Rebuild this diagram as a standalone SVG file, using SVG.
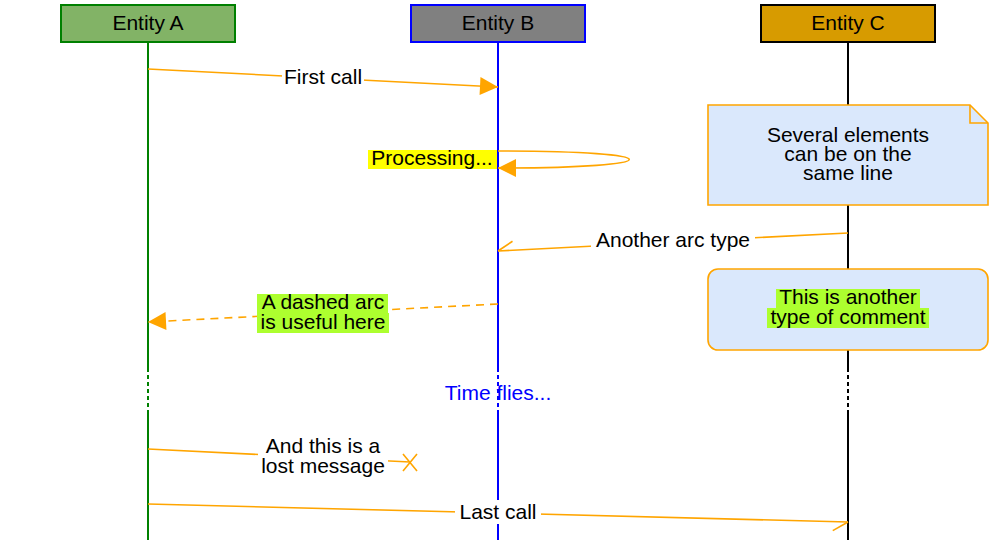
<svg xmlns="http://www.w3.org/2000/svg" width="995" height="554" viewBox="0 0 995 554">
<style>
text{font-family:"Liberation Sans",Arial,sans-serif;font-size:21px;fill:#000;}
.c{text-anchor:middle;}
.arc{fill:none;stroke:#FFA500;stroke-width:1.6;}
.life{fill:none;stroke-width:2;}
.dot{stroke-dasharray:4 3;}
.lbl{fill:#fff;}
.note{fill:#DAE8FC;stroke:#FFA500;stroke-width:1.6;}
.gy{fill:#ADFF2F;}
</style>
<defs>
<marker id="fill" markerUnits="userSpaceOnUse" markerWidth="20" markerHeight="20" refX="18" refY="9" orient="auto" overflow="visible">
<path d="M0,0 L18,9 L0,18 z" fill="#FFA500"/>
</marker>
<marker id="half" markerUnits="userSpaceOnUse" markerWidth="20" markerHeight="20" refX="0" refY="0" orient="auto" overflow="visible">
<path d="M-15,9 L0,0" fill="none" stroke="#FFA500" stroke-width="1.6"/>
</marker>
</defs>
<rect width="995" height="554" fill="#fff"/>
<g id="lifelines">
<path class="life" stroke="#008000" d="M148,42 V368 M148,410 V540"/>
<path class="life dot" stroke="#008000" d="M148,368 V410"/>
<path class="life" stroke="#0000FF" d="M498,42 V368 M498,410 V540"/>
<path class="life dot" stroke="#0000FF" d="M498,368 V410"/>
<path class="life" stroke="#000" d="M848,42 V368 M848,410 V540"/>
<path class="life dot" stroke="#000" d="M848,368 V410"/>
</g>
<g id="entityA">
<rect x="61" y="5" width="174" height="37" fill="#82B366" stroke="#008000" stroke-width="2"/>
<text class="c" x="148" y="30">Entity A</text>
</g>
<g id="entityB">
<rect x="411" y="5" width="174" height="37" fill="#808080" stroke="#0000FF" stroke-width="2"/>
<text class="c" x="498" y="30">Entity B</text>
</g>
<g id="entityC">
<rect x="761" y="5" width="174" height="37" fill="#D79B00" stroke="#000" stroke-width="2"/>
<text class="c" x="848" y="30">Entity C</text>
</g>
<g id="connectors">
<line class="arc" x1="148" y1="69" x2="498" y2="87" marker-end="url(#fill)"/>
<path class="arc" d="M498,151 C673,151 673,168 498,168" marker-end="url(#fill)"/>
<line class="arc" x1="848" y1="233" x2="498" y2="251" marker-end="url(#half)"/>
<line class="arc" x1="498" y1="304" x2="148" y2="322" stroke-dasharray="8 6" marker-end="url(#fill)"/>
<line class="arc" x1="148" y1="449" x2="410" y2="462"/>
<path class="arc" d="M403,454 L417,471 M417,454 L403,471"/>
<line class="arc" x1="148" y1="504" x2="848" y2="522" marker-end="url(#half)"/>
</g>
<g id="label-first">
<rect class="lbl" x="282" y="66" width="82" height="24"/>
<text class="c" x="323" y="84">First call</text>
</g>
<g id="label-processing">
<rect x="368" y="150" width="129" height="19" fill="#FFFF00"/>
<text class="c" x="432" y="165">Processing...</text>
</g>
<g id="note1">
<path class="note" d="M708,105 H970 L988,123 V205 H708 Z"/>
<path fill="none" stroke="#FFA500" stroke-width="1.6" d="M970,105 V123 H988"/>
<text class="c" x="848" y="142">Several elements</text>
<text class="c" x="848" y="161">can be on the</text>
<text class="c" x="848" y="180">same line</text>
</g>
<g id="label-another">
<rect class="lbl" x="591" y="229" width="164" height="24"/>
<text class="c" x="673" y="247">Another arc type</text>
</g>
<g id="note2">
<rect class="note" x="708" y="269" width="280" height="81" rx="10"/>
<rect class="gy" x="776" y="289" width="144" height="19"/>
<rect class="gy" x="767" y="308" width="162" height="20"/>
<text class="c" x="848" y="304">This is another</text>
<text class="c" x="848" y="324">type of comment</text>
</g>
<g id="label-dashed">
<rect class="gy" x="257" y="294" width="131" height="19"/>
<rect class="gy" x="257" y="313" width="132" height="20"/>
<text class="c" x="323" y="309">A dashed arc</text>
<text class="c" x="323" y="329">is useful here</text>
</g>
<g id="label-time">
<text class="c" x="498" y="400" style="fill:#0000FF">Time flies...</text>
</g>
<g id="label-lost">
<rect class="lbl" x="258" y="436" width="130" height="42"/>
<text class="c" x="323" y="453">And this is a</text>
<text class="c" x="323" y="473">lost message</text>
</g>
<g id="label-last">
<rect class="lbl" x="455" y="500" width="86" height="24"/>
<text class="c" x="498" y="519">Last call</text>
</g>
</svg>
